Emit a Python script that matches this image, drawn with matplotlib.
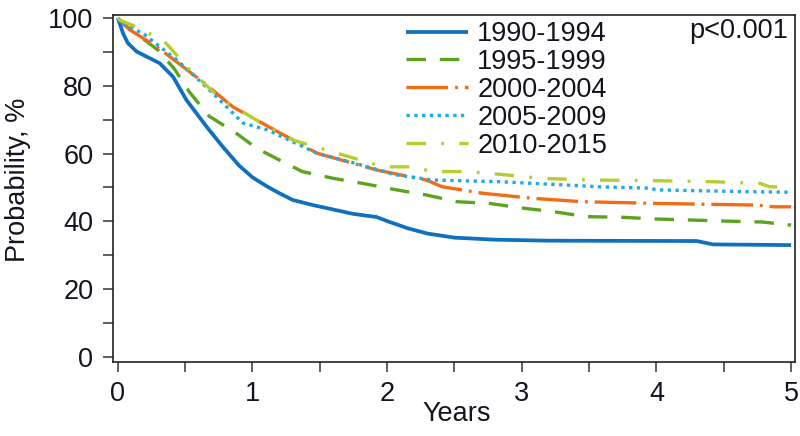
import matplotlib
matplotlib.use("Agg")
import matplotlib.pyplot as plt
from matplotlib.ticker import MultipleLocator

plt.rcParams["font.family"] = ["Liberation Sans", "DejaVu Sans"]
plt.rcParams["lines.scale_dashes"] = False

# Kaplan-Meier style curves (years, probability %)
t_1990 = [0, 0.04, 0.075, 0.14, 0.215, 0.31, 0.41, 0.51, 0.66, 0.78, 0.9, 1.0,
          1.1, 1.2, 1.3, 1.45, 1.6, 1.75, 1.92, 2.02, 2.15, 2.3, 2.5, 2.8, 3.2,
          4.3, 4.42, 5.0]
s_1990 = [100, 95.4, 92.6, 90.1, 88.6, 86.7, 82.7, 75.8, 67.9, 62.0, 56.5, 53.0,
          50.5, 48.3, 46.3, 44.8, 43.5, 42.2, 41.3, 39.8, 38.0, 36.4, 35.2, 34.6, 34.3,
          34.2, 33.2, 33.0]

t_1995 = [0, 0.05, 0.15, 0.3, 0.42, 0.535, 0.68, 0.88, 1.03, 1.20, 1.37, 1.60, 1.82,
          2.07, 2.29, 2.52, 2.76, 3.01, 3.23, 3.48, 3.75, 4.0, 4.25, 4.5, 4.79, 5.0]
s_1995 = [100, 98, 95, 90.5, 85, 78, 71, 66, 61.6, 58.1, 54.7, 52.7, 51.2,
          49.3, 47.8, 45.8, 45.3, 43.9, 42.9, 41.4, 41.2, 40.7, 40.4, 40.1, 39.8, 38.9]

t_2000 = [0, 0.09, 0.29, 0.39, 0.63, 0.854, 1.03, 1.48, 1.92, 2.04, 2.29, 2.41,
          2.71, 3.08, 3.45, 4.0, 4.75, 4.87, 5.0]
s_2000 = [100, 96.5, 91.5, 88.5, 81.2, 73.8, 69.9, 60.1, 55.2, 54.2, 52.2, 50.2,
          48.3, 46.8, 45.8, 45.3, 44.8, 44.3, 44.3]

t_2005 = [0, 0.05, 0.186, 0.44, 0.68, 0.93, 1.11, 1.48, 1.72, 2.07, 2.34, 2.84,
          3.34, 3.58, 3.95, 4.0, 4.62, 5.0]
s_2005 = [100, 98, 95.5, 87.6, 78.8, 69.0, 67.0, 60.1, 57.6, 53.7, 52.2, 51.7,
          50.7, 50.2, 49.8, 49.3, 48.8, 48.6]

t_2010 = [0, 0.015, 0.19, 0.36, 0.535, 0.76, 1.03, 1.30, 1.63, 1.97, 2.17, 2.34,
          2.56, 2.76, 3.14, 3.53, 4.0, 4.42, 4.77, 4.84, 5.0]
s_2010 = [100, 99.4, 96.5, 92.5, 84.7, 76.3, 69.9, 64.0, 60.1, 56.1, 56.1, 54.7,
          54.7, 54.2, 52.7, 52.2, 52.0, 51.7, 51.2, 50.2, 50.2]

labels = ["1990-1994", "1995-1999", "2000-2004", "2005-2009", "2010-2015"]
x_ticks = [0, 1, 2, 3, 4, 5]
y_ticks = [0, 20, 40, 60, 80, 100]

series = [(t_1990, s_1990), (t_1995, s_1995), (t_2000, s_2000),
          (t_2005, s_2005), (t_2010, s_2010)]
styles = [
    dict(color="#0f70bd", lw=2.7, ls="-"),
    dict(color="#5aa41e", lw=2.4, ls=(0, (14, 10))),
    dict(color="#f16c17", lw=2.4, ls=(0, (30, 5, 2, 5))),
    dict(color="#22aae6", lw=2.4, ls=(0, (2.4, 3.2))),
    dict(color="#b7cc2f", lw=2.4, ls=(0, (14, 11, 2, 11))),
]

TEXT = "#141420"
FS = 19.5

fig = plt.figure(figsize=(8.0, 4.36), dpi=100)
ax = fig.add_axes([0.141, 0.1697, 0.853, 0.7959])

for (t, s), lab, st in zip(series, labels, styles):
    ax.plot(t, s, label=lab, solid_capstyle="butt", dash_capstyle="butt", **st)

ax.set_xlim(-0.037, 5.03)
ax.set_ylim(-1.5, 100.9)
ax.set_xticks(x_ticks)
ax.set_yticks(y_ticks)
ax.xaxis.set_minor_locator(MultipleLocator(0.5))
ax.yaxis.set_minor_locator(MultipleLocator(10))
ax.tick_params(which="both", direction="out", length=7, width=1.1, color="#333333",
               labelsize=FS, labelcolor=TEXT, pad=7)
for sp in ax.spines.values():
    sp.set_color("#222222")
    sp.set_linewidth(1.2)

leg = ax.legend(loc="upper left", bbox_to_anchor=(406 / 800, 1 - 21 / 436),
                bbox_transform=fig.transFigure, frameon=False, fontsize=FS,
                borderpad=0, borderaxespad=0, labelspacing=0.07,
                handlelength=2.3, handletextpad=0.33)
for txt in leg.get_texts():
    txt.set_color(TEXT)

fig.text(788 / 800, 1 - 31 / 436, "p<0.001", ha="right", va="center",
         fontsize=FS, color=TEXT)
fig.text(18 / 800, 1 - 180 / 436, "Probability, %", rotation=90, ha="center",
         va="center", fontsize=FS, color=TEXT)
fig.text(457 / 800, 1 - 414 / 436, "Years", ha="center", va="center",
         fontsize=FS, color=TEXT)

fig.savefig("out.png", dpi=100)
